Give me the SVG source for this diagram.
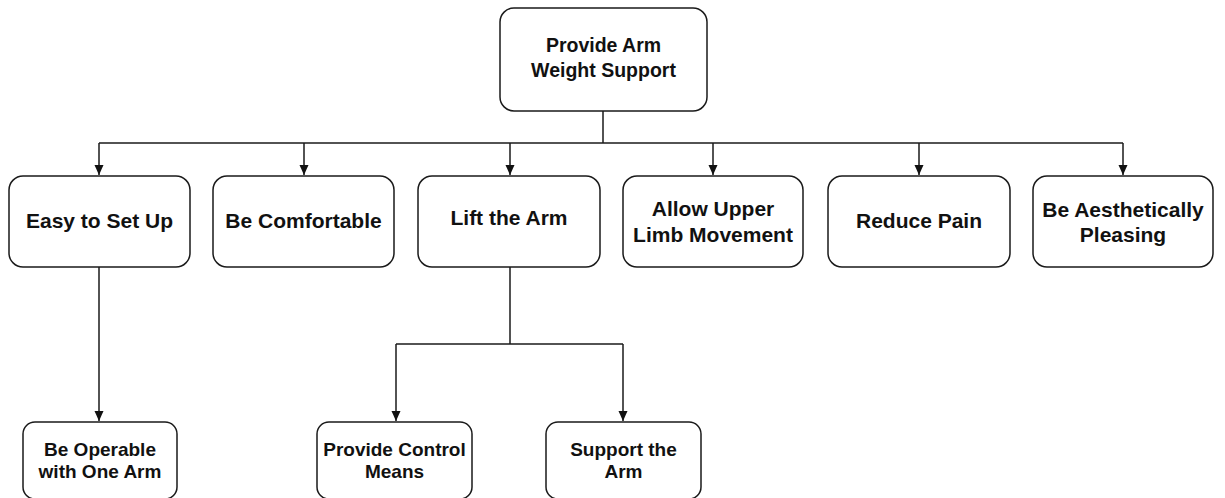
<svg xmlns="http://www.w3.org/2000/svg" width="1225" height="498" viewBox="0 0 1225 498">
<style>
.box{fill:#fff;stroke:#1a1a1a;stroke-width:1.5}
.t{font-family:"Liberation Sans",Arial,sans-serif;font-weight:bold;fill:#111;text-anchor:middle}
.top{font-size:19.5px}
.r2{font-size:21px}
.r3{font-size:19px}
.ln{fill:none;stroke:#1a1a1a;stroke-width:1.5}
</style>
<defs>
<marker id="ah" markerWidth="12" markerHeight="12" refX="10" refY="6" orient="auto" markerUnits="userSpaceOnUse">
<path d="M0,1.5 L10,6 L0,10.5 Z" fill="#111"/>
</marker>
</defs>
<g id="connectors">
<path class="ln" d="M603,111 V143"/>
<path class="ln" d="M99,143 H1123"/>
<path class="ln" d="M99,143 V175" marker-end="url(#ah)"/>
<path class="ln" d="M304,143 V175" marker-end="url(#ah)"/>
<path class="ln" d="M510,143 V175" marker-end="url(#ah)"/>
<path class="ln" d="M713,143 V175" marker-end="url(#ah)"/>
<path class="ln" d="M919,143 V175" marker-end="url(#ah)"/>
<path class="ln" d="M1123,143 V175" marker-end="url(#ah)"/>
<path class="ln" d="M99,267 V421" marker-end="url(#ah)"/>
<path class="ln" d="M510,267 V344"/>
<path class="ln" d="M396,344 H623"/>
<path class="ln" d="M396,344 V421" marker-end="url(#ah)"/>
<path class="ln" d="M623,344 V421" marker-end="url(#ah)"/>
</g>
<g id="n-root">
<rect class="box" x="500" y="8" width="207" height="103" rx="14"/>
<text class="t top" x="603.5" y="52">Provide Arm</text>
<text class="t top" x="603.5" y="77">Weight Support</text>
</g>
<g id="n-easy">
<rect class="box" x="9" y="176" width="181" height="91" rx="14"/>
<text class="t r2" x="99.5" y="228">Easy to Set Up</text>
</g>
<g id="n-comfort">
<rect class="box" x="213" y="176" width="181" height="91" rx="14"/>
<text class="t r2" x="303.5" y="228">Be Comfortable</text>
</g>
<g id="n-lift">
<rect class="box" x="418" y="176" width="182" height="91" rx="14"/>
<text class="t r2" x="509" y="225">Lift the Arm</text>
</g>
<g id="n-allow">
<rect class="box" x="623" y="176" width="180" height="91" rx="14"/>
<text class="t r2" x="713" y="216">Allow Upper</text>
<text class="t r2" x="713" y="241.5">Limb Movement</text>
</g>
<g id="n-pain">
<rect class="box" x="828" y="176" width="182" height="91" rx="14"/>
<text class="t r2" x="919" y="228">Reduce Pain</text>
</g>
<g id="n-aesth">
<rect class="box" x="1033" y="176" width="180" height="91" rx="14"/>
<text class="t r2" x="1123" y="216.5">Be Aesthetically</text>
<text class="t r2" x="1123" y="241.5">Pleasing</text>
</g>
<g id="n-oper">
<rect class="box" x="23" y="422" width="154" height="77" rx="12"/>
<text class="t r3" x="100" y="455.5">Be Operable</text>
<text class="t r3" x="100" y="478">with One Arm</text>
</g>
<g id="n-control">
<rect class="box" x="317" y="422" width="155" height="77" rx="12"/>
<text class="t r3" x="394.5" y="455.5">Provide Control</text>
<text class="t r3" x="394.5" y="478">Means</text>
</g>
<g id="n-support">
<rect class="box" x="546" y="422" width="155" height="77" rx="12"/>
<text class="t r3" x="623.5" y="455.5">Support the</text>
<text class="t r3" x="623.5" y="478">Arm</text>
</g>
</svg>
